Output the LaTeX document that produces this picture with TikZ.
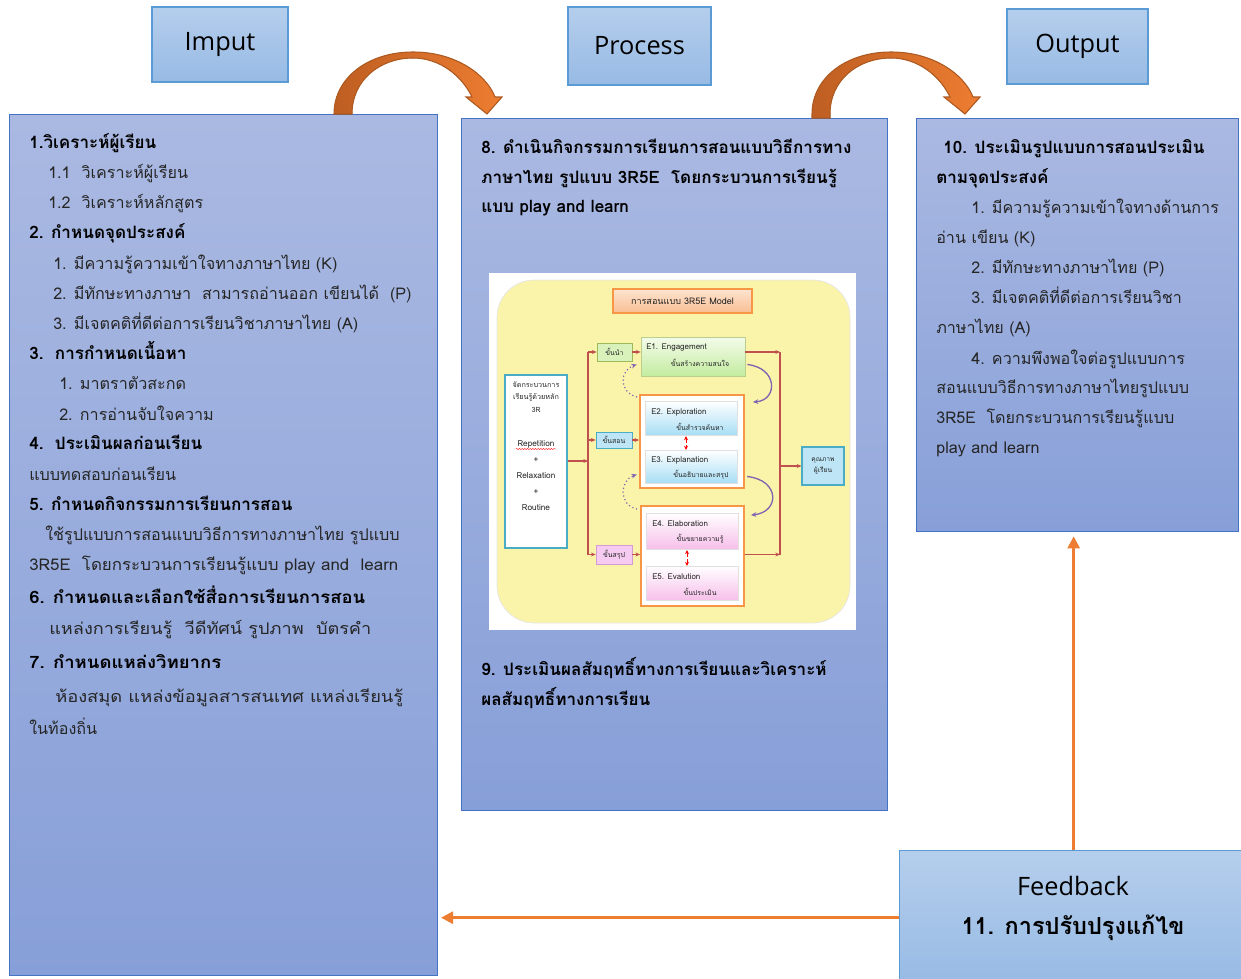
\documentclass[tikz,border=0pt]{standalone}
\usepackage{fontspec}
\usepackage{graphicx}
\setmainfont{Open Sans}
\newfontfamily\thai[Script=Thai]{Loma}
\usetikzlibrary{arrows.meta,decorations.pathmorphing}
\definecolor{boxtop}{HTML}{AAB9E2}
\definecolor{boxbot}{HTML}{879FD8}
\definecolor{boxline}{HTML}{4472C4}
\definecolor{hdrtop}{HTML}{B5CEEC}
\definecolor{hdrbot}{HTML}{97BAE4}
\definecolor{hdrline}{HTML}{5B9BD5}
\definecolor{org}{HTML}{ED7D31}
\definecolor{orgdark}{HTML}{BE5E22}
\definecolor{orgline}{HTML}{AE5A21}
\definecolor{yel}{HTML}{FAF4AA}
\definecolor{peach1}{HTML}{FDE4D0}
\definecolor{peach2}{HTML}{F9BE92}
\definecolor{ttl}{HTML}{F79646}
\definecolor{teal}{HTML}{4BACC6}
\definecolor{grn}{HTML}{9BBB59}
\definecolor{grnlt}{HTML}{D9F2BC}
\definecolor{grnbot}{HTML}{C4ECA0}
\definecolor{blu}{HTML}{A8DEF5}
\definecolor{blult}{HTML}{BDE5F6}
\definecolor{pnk}{HTML}{F7BFEA}
\definecolor{pnklt}{HTML}{F6CBF1}
\definecolor{pnkline}{HTML}{D49BD6}
\definecolor{rc}{HTML}{C0504D}
\definecolor{purp}{HTML}{7F64B2}
\newcommand{\drawcurv}[2]{%
  \fill[left color=orgdark, right color=org, draw=orgline, line width=0.8pt, shift={(#1,0)}]
    (334,-#2) -- (334,-114) .. controls (334,-78) and (368,-52) .. (413,-52)
    .. controls (455,-52) and (486,-74) .. (495,-97)
    -- (502,-97) -- (487,-114) -- (466,-97) -- (472,-97)
    .. controls (462,-76) and (440,-58) .. (413,-58)
    .. controls (380,-58) and (352,-80) .. (352,-114) -- (352,-#2) -- cycle;}
\newcommand{\fitline}[2]{\resizebox{#1}{\height}{#2}}
\tikzset{
  hdr/.style={rectangle, draw=hdrline, line width=1pt, top color=hdrtop, bottom color=hdrbot,
    font=\fontsize{19}{22}\selectfont, text=black},
  mainbox/.style={rectangle, draw=boxline, line width=1pt, top color=boxtop, bottom color=boxbot, anchor=north west},
  txt/.style={anchor=base west, inner sep=0pt, font=\thai\fontsize{12.1}{15}\selectfont, text=black!85},
  txtb/.style={txt, font=\thai\bfseries\fontsize{12.8}{15}\selectfont, text=black},
  fbarrow/.style={draw=org, line width=2pt, -{Triangle[length=9pt,width=9pt]}},
  tiny/.style={inner sep=0pt, font=\thai\fontsize{6}{7}\selectfont, text=black!85},
  tinyth/.style={inner sep=0pt, font=\thai\fontsize{5.2}{6}\selectfont, text=black!85},
  rcline/.style={draw=rc, line width=0.8pt},
  rcarrow/.style={rcline, -{Stealth[length=3.5pt,width=3pt]}},
  ebox/.style={rectangle, inner sep=0pt, draw=black!12, line width=0.3pt},
}
\begin{document}
\begin{tikzpicture}[x=0.75pt,y=0.75pt]
\useasboundingbox (0,0) rectangle (1241,-978);
\fill[white] (0,0) rectangle (1241,-978);

% headers
\node[hdr, minimum width=136*0.75pt, minimum height=75*0.75pt] (hin) at (220,-44.5) {Imput};
\node[hdr, minimum width=143*0.75pt, minimum height=78*0.75pt] (hpr) at (639.5,-46) {Process};
\node[hdr, minimum width=141*0.75pt, minimum height=75*0.75pt] (hout) at (1077.5,-46.5) {Output};

% main boxes
\node[mainbox, minimum width=428*0.75pt, minimum height=861*0.75pt] (input) at (9,-114) {};
\node[mainbox, minimum width=426*0.75pt, minimum height=692*0.75pt] (process) at (461,-118) {};
\node[mainbox, minimum width=322*0.75pt, minimum height=413*0.75pt] (output) at (916,-118) {};
\node[hdr, anchor=north west, minimum width=348*0.75pt, minimum height=134*0.75pt] (fb) at (899,-850) {};

% curved arrows
\drawcurv{0}{114}
\drawcurv{478}{118}

% feedback arrows
\draw[fbarrow, shorten >=3pt] (fb.north) -- (fb.north |- output.south);
\draw[fbarrow, shorten >=2pt] (fb.west) -- (fb.west -| input.east);
\node[font=\fontsize{19}{22}\selectfont] (fbt1) at (1073,-886) {Feedback};
\node[font=\thai\bfseries\fontsize{17.6}{22}\selectfont] (fbt2) at (1073,-928) {11. การปรับปรุงแก้ไข};

% input text
\node[txtb] (a1) at (29,-148) {1.วิเคราะห์ผู้เรียน};
\node[txt] (a2) at (48,-178) {1.1~~วิเคราะห์ผู้เรียน};
\node[txt] (a3) at (48,-208) {1.2~~วิเคราะห์หลักสูตร};
\node[txtb] (a4) at (29,-238) {2. กำหนดจุดประสงค์};
\node[txt] (a5) at (53,-269) {1. มีความรู้ความเข้าใจทางภาษาไทย (K)};
\node[txt] (a6) at (53,-299) {2. มีทักษะทางภาษา~~สามารถอ่านออก เขียนได้~~(P)};
\node[txt] (a7) at (53,-329) {3. มีเจตคติที่ดีต่อการเรียนวิชาภาษาไทย (A)};
\node[txtb] (a8) at (29,-359) {3.~~การกำหนดเนื้อหา};
\node[txt] (a9) at (59,-389) {1. มาตราตัวสะกด};
\node[txt] (a10) at (59,-420) {2. การอ่านจับใจความ};
\node[txtb] (a11) at (29,-449) {4.~~ประเมินผลก่อนเรียน};
\node[txt] (a12) at (29,-480) {แบบทดสอบก่อนเรียน};
\node[txtb] (a13) at (29,-510) {5. กำหนดกิจกรรมการเรียนการสอน};
\node[txt] (a14) at (45,-540) {ใช้รูปแบบการสอนแบบวิธีการทางภาษาไทย รูปแบบ};
\node[txt] (a15) at (29,-570) {\fitline{276.75pt}{3R5E~~โดยกระบวนการเรียนรู้แบบ play and~~learn}};
\node[txtb] (a16) at (29,-603) {\fitline{252pt}{6. กำหนดและเลือกใช้สื่อการเรียนการสอน}};
\node[txt] (a17) at (49,-634) {\fitline{241.5pt}{แหล่งการเรียนรู้~~วีดีทัศน์ รูปภาพ~~บัตรคำ}};
\node[txtb] (a18) at (29,-668) {\fitline{144pt}{7. กำหนดแหล่งวิทยากร}};
\node[txt] (a19) at (55,-702) {\fitline{261pt}{ห้องสมุด แหล่งข้อมูลสารสนเทศ แหล่งเรียนรู้}};
\node[txt] (a20) at (29,-734) {ในท้องถิ่น};

% process text
\node[txtb] (b1) at (481,-153) {8. ดำเนินกิจกรรมการเรียนการสอนแบบวิธีการทาง};
\node[txtb] (b2) at (481,-183) {ภาษาไทย รูปแบบ 3R5E~~โดยกระบวนการเรียนรู้};
\node[txtb] (b3) at (481,-212) {แบบ play and learn};
\node[txtb] (b4) at (481,-675) {9. ประเมินผลสัมฤทธิ์ทางการเรียนและวิเคราะห์};
\node[txtb] (b5) at (481,-705) {ผลสัมฤทธิ์ทางการเรียน};

% output text
\node[txtb] (c1) at (943,-153) {10. ประเมินรูปแบบการสอนประเมิน};
\node[txtb] (c2) at (936,-183) {ตามจุดประสงค์};
\node[txt] (c3) at (971,-213) {1. มีความรู้ความเข้าใจทางด้านการ};
\node[txt] (c4) at (936,-243) {อ่าน เขียน (K)};
\node[txt] (c5) at (971,-273) {2. มีทักษะทางภาษาไทย (P)};
\node[txt] (c6) at (971,-303) {3. มีเจตคติที่ดีต่อการเรียนวิชา};
\node[txt] (c7) at (936,-333) {ภาษาไทย (A)};
\node[txt] (c8) at (971,-364) {4. ความพึงพอใจต่อรูปแบบการ};
\node[txt] (c9) at (936,-393) {สอนแบบวิธีการทางภาษาไทยรูปแบบ};
\node[txt] (c10) at (936,-423) {3R5E~~โดยกระบวนการเรียนรู้แบบ};
\node[txt] (c11) at (936,-453) {play and learn};

% inner model picture
\fill[white] (489,-273) rectangle (856,-630);
\fill[yel, draw=black!10, line width=0.5pt, rounded corners=28pt] (497,-280) rectangle (850,-623);
\node[rectangle, draw=ttl, line width=0.8pt, top color=peach1, bottom color=peach2,
  minimum width=139*0.75pt, minimum height=24*0.75pt, tiny, font=\thai\fontsize{6.8}{8}\selectfont] (ttlbox) at (682.5,-301) {การสอนแบบ 3R5E Model};
\node[rectangle, draw=teal, line width=1pt, fill=white, minimum width=62*0.75pt, minimum height=173*0.75pt] (l3r) at (536,-461.5) {};
\node[tiny, align=center, font=\thai\fontsize{5.4}{9.6}\selectfont] (l3rt1) at (536,-397) {จัดกระบวนการ\\เรียนรู้ด้วยหลัก\\3R};
\node[tiny, align=center, font=\thai\fontsize{6.2}{12}\selectfont] (l3rt2) at (536,-476) {Repetition\\+\\Relaxation\\+\\Routine};
\draw[red, line width=0.3pt, decorate, decoration={snake, amplitude=0.4pt, segment length=2pt}] (516,-449) -- (556,-449);

\node[rectangle, draw=grn, line width=0.6pt, fill=grnlt, minimum width=35*0.75pt, minimum height=18*0.75pt, tinyth] (k1) at (614.5,-352) {ขั้นนำ};
\node[rectangle, draw=teal, line width=0.6pt, fill=blult, minimum width=36*0.75pt, minimum height=16*0.75pt, tinyth] (k2) at (614,-440) {ขั้นสอน};
\node[rectangle, draw=pnkline, line width=0.6pt, fill=pnklt, minimum width=36*0.75pt, minimum height=19*0.75pt, tinyth] (k3) at (614,-554.5) {ขั้นสรุป};

\node[rectangle, draw=grn!70, line width=0.6pt, top color=grnlt!30, bottom color=grnbot, minimum width=104*0.75pt, minimum height=39*0.75pt] (e1) at (693,-356.5) {};
\node[rectangle, draw=ttl, line width=1.4pt, fill=white, minimum width=104*0.75pt, minimum height=93*0.75pt] (g1) at (692,-441.5) {};
\node[ebox, top color=white, bottom color=blu, minimum width=92*0.75pt, minimum height=34*0.75pt] (e2) at (691,-418) {};
\node[ebox, top color=white, bottom color=blu, minimum width=92*0.75pt, minimum height=33*0.75pt] (e3) at (691,-466.5) {};
\node[rectangle, draw=ttl, line width=1.4pt, fill=white, minimum width=103*0.75pt, minimum height=100*0.75pt] (g2) at (692.5,-556) {};
\node[ebox, top color=white, bottom color=pnk, minimum width=92*0.75pt, minimum height=36*0.75pt] (e4) at (692,-531) {};
\node[ebox, top color=white, bottom color=pnk, minimum width=92*0.75pt, minimum height=34*0.75pt] (e5) at (692,-583) {};
\node[rectangle, draw=teal, line width=0.8pt, fill=blult, minimum width=42*0.75pt, minimum height=38*0.75pt,
  tiny, align=center, font=\thai\fontsize{5}{8}\selectfont] (q) at (823,-466) {คุณภาพ\\ผู้เรียน};

\node[tiny, anchor=west] (e1a) at (646,-347) {E1. Engagement};
\node[tinyth] (e1b) at (700,-363) {ขั้นสร้างความสนใจ};
\node[tiny, anchor=west] (e2a) at (651,-412) {E2. Exploration};
\node[tinyth] (e2b) at (700,-427) {ขั้นสำรวจค้นหา};
\node[tiny, anchor=west] (e3a) at (651,-460) {E3. Explanation};
\node[tinyth] (e3b) at (701,-475) {ขั้นอธิบายและสรุป};
\node[tiny, anchor=west] (e4a) at (652,-524) {E4. Elaboration};
\node[tinyth] (e4b) at (700,-539) {ขั้นขยายความรู้};
\node[tiny, anchor=west] (e5a) at (652,-577) {E5. Evalution};
\node[tinyth] (e5b) at (700,-592) {ขั้นประเมิน};

% inner connectors
\coordinate (split) at (588,-461);
\coordinate (rj) at (780,-466);
\draw[rcarrow] (l3r.east |- split) -- (split);
\draw[rcline] (split |- k1.west) -- (split |- k3.west);
\draw[rcarrow] (split |- k1.west) -- (k1.west);
\draw[rcarrow] (split |- k2.west) -- (k2.west);
\draw[rcarrow] (split |- k3.west) -- (k3.west);
\draw[rcarrow] (k1.east) -- (k1.east -| e1.west);
\draw[rcarrow] (k2.east) -- (k2.east -| g1.west);
\draw[rcarrow] (k3.east) -- (k3.east -| g2.west);
\draw[rcarrow] (e1.east |- k1.east) -- (k1.east -| rj);
\draw[rcarrow] (g2.east |- k3.east) -- (k3.east -| rj);
\draw[rcline] (k1.east -| rj) -- (k3.east -| rj);
\draw[rcarrow] (rj) -- (q.west);

% purple loops
\draw[purp, line width=1pt, -{Stealth[length=4pt,width=3.5pt]}] ([shift={(2,-8)}]e1.east) .. controls (778,-368) and (778,-400) .. ([shift={(8,-8)}]g1.north east);
\draw[purp, line width=0.9pt, dotted, -{Stealth[length=4pt,width=3.5pt]}] ([shift={(-2,-3)}]g1.north west) .. controls (618,-392) and (620,-370) .. ([shift={(-4,-8)}]e1.west);
\draw[purp, line width=1pt, -{Stealth[length=4pt,width=3.5pt]}] ([shift={(10,-10)}]e3.east) .. controls (780,-480) and (780,-512) .. ([shift={(6,-10)}]g2.north east);
\draw[purp, line width=0.9pt, dotted, -{Stealth[length=4pt,width=3.5pt]}] ([shift={(-3,-4)}]g2.north west) .. controls (618,-505) and (620,-480) .. ([shift={(-8,-8)}]e3.west);

% red double arrows
\draw[red, line width=0.7pt, densely dashed, {Stealth[length=3pt,width=3pt]}-{Stealth[length=3pt,width=3pt]}] (e2.south) ++(-5,-1) coordinate (r1) -- (r1 |- e3.north);
\draw[red, line width=0.7pt, densely dashed, {Stealth[length=3pt,width=3pt]}-{Stealth[length=3pt,width=3pt]}] (e4.south) ++(-5,-1) coordinate (r2) -- (r2 |- e5.north);
\end{tikzpicture}
\end{document}
